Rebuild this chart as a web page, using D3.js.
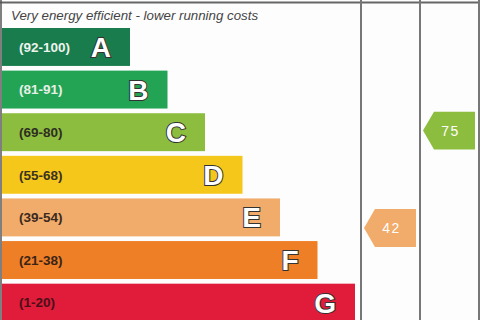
<!DOCTYPE html>
<html>
<head>
<meta charset="utf-8">
<script src="https://cdn.jsdelivr.net/npm/d3@7"></script>
<style>
html, body { margin: 0; padding: 0; background: #fdfdfd; }
svg { display: block; }
</style>
</head>
<body>
<div id="chart"></div>
<script>
// rating bands, top = best
var bands = ["A", "B", "C", "D", "E", "F", "G"];
var rangeLabels = ["(92-100)", "(81-91)", "(69-80)", "(55-68)", "(39-54)", "(21-38)", "(1-20)"];
var bandLow = [92, 81, 69, 55, 39, 21, 1];
var bandHigh = [100, 91, 80, 68, 54, 38, 20];
var ratingColumns = ["Current", "Potential"];
var ratingValues = [42, 75];
var title = "Very energy efficient - lower running costs";

var width = 480, height = 320;

var svg = d3.select("#chart").append("svg")
  .attr("width", width)
  .attr("height", height);

svg.append("rect")
  .attr("width", width).attr("height", height)
  .attr("fill", "#fdfdfd");

// scales
var y = d3.scaleBand().domain(bands).range([28, 321.6]).paddingInner(0.11);
var barEnd = d3.scalePoint().domain(bands).range([130, 355]);
var colour = d3.scaleOrdinal().domain(bands)
  .range(["#187c4c", "#22a454", "#8dbd3f", "#f6c71b", "#f1ab6b", "#ee7f27", "#e11b3a"]);
var labelColour = d3.scaleOrdinal().domain(bands)
  .range(["#eef3ee", "#e6efe6", "#2e2e22", "#3a3220", "#3a2a20", "#3a2418", "#4a1018"]);
var col = d3.scaleBand().domain(ratingColumns).range([361, 479]);

// frame lines
svg.append("line")
  .attr("x1", 0).attr("x2", width).attr("y1", 2.5).attr("y2", 2.5)
  .attr("stroke", "#666").attr("stroke-width", 2);
svg.append("line")
  .attr("x1", 1).attr("x2", 1).attr("y1", 0).attr("y2", height)
  .attr("stroke", "#555").attr("stroke-width", 1.5);
svg.selectAll(".vline")
  .data([col.range()[0], col("Potential"), col.range()[1]])
  .enter().append("line")
  .attr("class", "vline")
  .attr("x1", function(d) { return d; }).attr("x2", function(d) { return d; })
  .attr("y1", 0).attr("y2", height)
  .attr("stroke", "#777").attr("stroke-width", 2);

svg.append("text")
  .attr("x", 11).attr("y", 20)
  .attr("font-family", "Liberation Sans, Arial, sans-serif")
  .attr("font-style", "italic")
  .attr("font-size", 13.3)
  .attr("fill", "#444")
  .text(title);

// bars
var rows = svg.selectAll(".band")
  .data(bands)
  .enter().append("g")
  .attr("class", "band");

rows.append("rect")
  .attr("x", 2)
  .attr("y", function(d) { return y(d); })
  .attr("width", function(d) { return barEnd(d) - 2; })
  .attr("height", y.bandwidth())
  .attr("fill", function(d) { return colour(d); });

rows.append("text")
  .attr("x", 19)
  .attr("y", function(d) { return y(d) + y.bandwidth() / 2; })
  .attr("dy", "0.36em")
  .attr("font-family", "Liberation Sans, Arial, sans-serif")
  .attr("font-weight", "bold")
  .attr("font-size", 13.5)
  .attr("fill", function(d) { return labelColour(d); })
  .text(function(d, i) { return rangeLabels[i]; });

rows.append("text")
  .attr("x", function(d) { return barEnd(d) - 19; })
  .attr("y", function(d) { return y(d) + y.bandwidth() / 2; })
  .attr("dy", "0.36em")
  .attr("text-anchor", "end")
  .attr("font-family", "Liberation Sans, Arial, sans-serif")
  .attr("font-weight", "bold")
  .attr("font-size", 28)
  .attr("fill", "#fff")
  .attr("stroke", "#333")
  .attr("stroke-width", 2)
  .attr("paint-order", "stroke")
  .text(function(d) { return d; });

// find which band a score falls in, and where inside it
function bandOf(v) {
  for (var i = 0; i < bands.length; i++) {
    if (v >= bandLow[i] && v <= bandHigh[i]) return i;
  }
  return bands.length - 1;
}
function scoreY(v) {
  var i = bandOf(v);
  var inBand = d3.scaleLinear()
    .domain([bandHigh[i] + 0.5, bandLow[i] - 0.5])
    .range([y(bands[i]), y(bands[i]) + y.bandwidth()]);
  return inBand(v);
}

var arrows = svg.selectAll(".arrow")
  .data(ratingValues)
  .enter().append("g")
  .attr("class", "arrow");

var ah = y.bandwidth();
arrows.append("path")
  .attr("d", function(v, i) {
    var x0 = col(ratingColumns[i]) + 3;
    var x1 = col(ratingColumns[i]) + col.bandwidth() - 4;
    var cy = scoreY(v);
    return "M" + x0 + "," + cy +
      "L" + (x0 + 11) + "," + (cy - ah / 2) +
      "L" + x1 + "," + (cy - ah / 2) +
      "L" + x1 + "," + (cy + ah / 2) +
      "L" + (x0 + 11) + "," + (cy + ah / 2) + "Z";
  })
  .attr("fill", function(v) { return colour(bands[bandOf(v)]); });

arrows.append("text")
  .attr("x", function(v, i) { return col(ratingColumns[i]) + col.bandwidth() / 2 + 1; })
  .attr("y", function(v) { return scoreY(v); })
  .attr("dy", "0.36em")
  .attr("text-anchor", "middle")
  .attr("font-family", "Liberation Sans, Arial, sans-serif")
  .attr("font-size", 14)
  .attr("letter-spacing", 1.5)
  .attr("fill", "#fff")
  .text(function(v) { return v; });
</script>
</body>
</html>
